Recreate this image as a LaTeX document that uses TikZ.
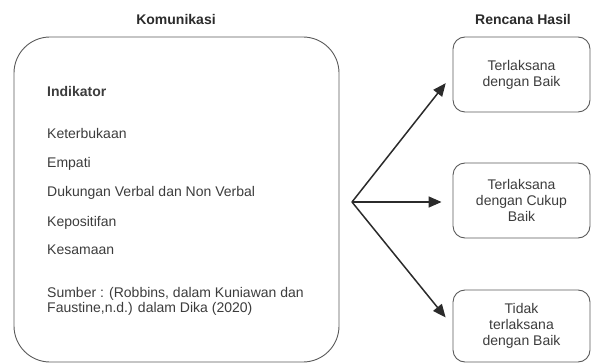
\documentclass[tikz,border=0pt]{standalone}
\usepackage{fontspec}
\setmainfont{Liberation Sans}
\usetikzlibrary{arrows.meta, positioning}
\definecolor{komLine}{HTML}{5A5A5A}
\definecolor{komText}{HTML}{3C3C3C}
\definecolor{komArrow}{HTML}{2B2B2B}

\begin{document}
\begin{tikzpicture}[x=1pt, y=-1pt,
  hasilbox/.style={draw=komLine, line width=0.9pt, rounded corners=12pt,
                   minimum width=137pt, align=center, text=komText,
                   font=\fontsize{14}{16}\selectfont},
  item/.style={anchor=west, text=komText, inner sep=0pt,
               font=\fontsize{14}{15}\selectfont, text height=10pt, text depth=3pt},
  title/.style={text=komArrow, font=\bfseries\fontsize{14}{16}\selectfont},
  arr/.style={draw=komArrow, line width=1.5pt,
              -{Triangle[length=13pt, width=11pt]}, shorten >=11pt}]
  \useasboundingbox (0,0) rectangle (591,363);

  % left side
  \node[title] (komTitle) at (176,19) {Komunikasi};
  \node[draw=komLine, line width=0.9pt, rounded corners=36pt,
        minimum width=325pt, minimum height=325pt] (komBox) at (176.5,199.5) {};
  \node[item, font=\bfseries\fontsize{14}{15}\selectfont] (indikator) at (47,93) {Indikator};
  \node[item] (keterbukaan) at (47,135) {Keterbukaan};
  \node[item] (empati) at (47,164) {Empati};
  \node[item] (dukungan) at (47,193) {Dukungan Verbal dan Non Verbal};
  \node[item] (kepositifan) at (47,223) {Kepositifan};
  \node[item] (kesamaan) at (47,251) {Kesamaan};
  \node[anchor=north west, inner sep=0pt, align=left, text=komText,
        font=\fontsize{14}{15}\selectfont] (sumber) at (47,287)
  {Sumber : (Robbins, dalam Kuniawan dan\\Faustine,n.d.) dalam Dika (2020)};

  % right side
  \node[title] (hasilTitle) at (523,19) {Rencana Hasil};
  \node[hasilbox, minimum height=75pt] (hasilBaik) at (521.5,74.5)
  {Terlaksana\\dengan Baik};
  \node[hasilbox, minimum height=75pt] (hasilCukup) at (521.5,200.5)
  {Terlaksana\\dengan Cukup\\Baik};
  \node[hasilbox, minimum height=72pt] (hasilTidak) at (521.5,326)
  {Tidak\\terlaksana\\dengan Baik};

  % arrows
  \coordinate (split) at (352,202);
  \draw[arr] (split) -- (hasilBaik.west);
  \draw[arr] (split) -- (hasilCukup.west |- split);
  \draw[arr] (split) -- (hasilTidak.west);
\end{tikzpicture}
\end{document}
